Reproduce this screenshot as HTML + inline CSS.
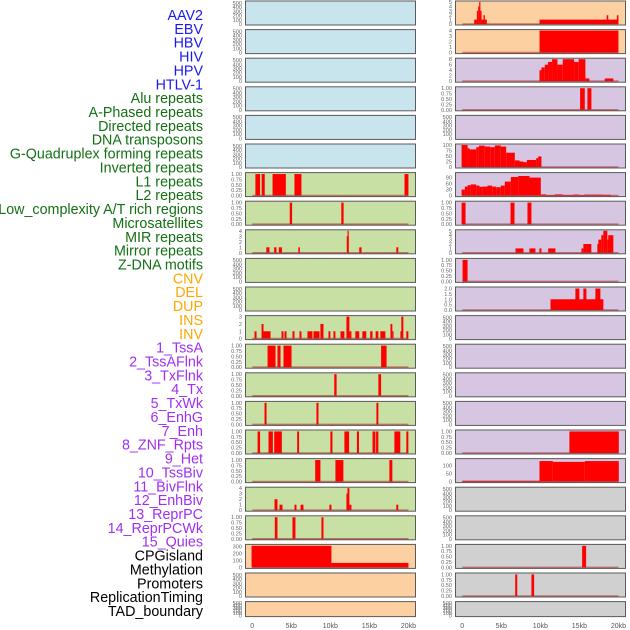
<!DOCTYPE html>
<html><head><meta charset="utf-8"><style>
html,body{margin:0;padding:0;background:#fff;width:630px;height:630px;overflow:hidden}
svg{display:block;font-family:"Liberation Sans",sans-serif}
</style></head><body>
<svg id="chart" width="630" height="630" viewBox="0 0 630 630"></svg>
<script>
// ---- data ----
const trackLabels = ["AAV2","EBV","HBV","HIV","HPV","HTLV-1","Alu repeats","A-Phased repeats","Directed repeats","DNA transposons","G-Quadruplex forming repeats","Inverted repeats","L1 repeats","L2 repeats","Low_complexity A/T rich regions","Microsatellites","MIR repeats","Mirror repeats","Z-DNA motifs","CNV","DEL","DUP","INS","INV","1_TssA","2_TssAFlnk","3_TxFlnk","4_Tx","5_TxWk","6_EnhG","7_Enh","8_ZNF_Rpts","9_Het","10_TssBiv","11_BivFlnk","12_EnhBiv","13_ReprPC","14_ReprPCWk","15_Quies","CPGisland","Methylation","Promoters","ReplicationTiming","TAD_boundary"];
const labelGroups = ["virus","virus","virus","virus","virus","virus","repeat","repeat","repeat","repeat","repeat","repeat","repeat","repeat","repeat","repeat","repeat","repeat","repeat","sv","sv","sv","sv","sv","chrom","chrom","chrom","chrom","chrom","chrom","chrom","chrom","chrom","chrom","chrom","chrom","chrom","chrom","chrom","other","other","other","other","other"];
const xTickValues = [0,5,10,15,20];
const xTickLabels = ["0","5kb","10kb","15kb","20kb"];
const ticksEmpty = [0,100,200,300,400,500];
const ticksFrac = [0,0.25,0.5,0.75,1];

// left column bars [startKb, endKb, value]
const L6_bars = [[0.4,1.0,1],[1.2,1.6,1],[2.6,4.3,1],[5.4,6.3,1],[19.5,20.0,1]];
const L7_bars = [[4.8,5.1,1],[11.4,11.7,1]];
const L8_bars = [[1.8,2.2,1],[2.8,3.1,1],[3.4,3.8,1],[5.9,6.1,1],[12.1,12.35,3],[12.2,12.35,4],[13.7,14.0,1],[18.45,18.7,1]];
const L11_bars = [[0.29,0.55,1],[1.19,1.44,2],[1.44,2.34,1],[3.75,4.0,1],[4.13,4.39,1],[5.15,5.41,1],[6.05,6.3,1],[7.07,7.71,1],[7.84,8.61,1],[8.73,9.12,2],[9.76,10.0,1],[10.4,10.65,1],[11.3,11.8,1],[12.06,12.44,3],[12.44,12.7,1],[13.2,13.7,1],[14.1,14.6,1],[15.1,15.4,1],[15.8,16.15,1],[16.4,17.05,1],[17.7,17.94,2],[17.94,18.05,1],[18.97,19.2,1],[19.09,19.35,3],[19.73,19.99,1]];
const L12_bars = [[1.96,2.98,1],[3.23,3.62,1],[4.0,5.03,1],[16.5,17.2,1]];
const L13_bars = [[10.5,10.8,1],[16.15,16.5,1]];
const L14_bars = [[1.57,1.83,1],[8.22,8.48,1],[15.9,16.15,1]];
const L15_bars = [[0.68,1.0,1],[2.08,2.64,1],[2.81,3.79,1],[5.75,6.0,1],[10.0,10.27,1],[11.8,12.4,1],[13.4,13.67,1],[15.4,15.77,1],[15.86,16.15,1],[18.2,18.96,1],[19.73,19.99,1]];
const L16_bars = [[8.06,8.73,1],[10.65,11.67,1],[17.56,17.94,1]];
const L17_bars = [[2.85,3.23,2],[3.49,3.87,1],[5.41,5.66,1],[6.19,6.56,1],[9.88,10.14,1],[12.06,12.32,3],[12.19,12.44,4],[12.44,12.7,1],[18.45,18.7,1]];
const L18_bars = [[2.89,3.23,1],[5.15,5.53,1],[8.86,9.12,1]];
const L19_bars = [[-0.09,10.14,310],[10.14,20.0,64]];

// right column bars
const R0_bars = [[1.53,1.87,1],[1.87,2.04,3],[2.04,2.17,4],[2.17,2.3,5],[2.3,2.47,3],[2.47,2.72,1],[2.72,2.9,2],[2.9,3.15,1],[9.9,20.0,1],[18.5,18.7,2],[19.8,20.0,2]];
const R1_bars = [[9.9,20.0,4]];
const R2_bars = [[9.89,10.14,4],[10.14,10.57,5],[10.57,10.99,6],[10.99,11.5,7],[11.5,12.19,8],[12.19,12.87,6],[12.87,14.32,8],[14.32,14.91,7],[14.91,15.77,8],[15.77,16.28,1],[18.24,19.35,1]];
const R3_bars = [[15.09,15.69,1],[16.03,16.54,1]];
const R5_bars = [[-0.09,0.68,100],[0.68,0.93,85],[0.93,1.79,80],[1.79,2.13,90],[2.13,2.89,97],[2.89,3.58,93],[3.58,4.17,90],[4.17,4.94,98],[4.94,5.62,93],[5.62,6.73,65],[6.73,7.33,30],[7.33,7.84,25],[7.84,8.27,22],[8.27,9.46,32],[9.46,9.72,40],[9.72,10.14,48]];
const R6_bars = [[-0.09,0.34,30],[0.34,0.68,45],[0.68,1.1,52],[1.1,1.79,56],[1.79,2.21,50],[2.21,2.64,44],[2.64,3.23,45],[3.23,3.83,50],[3.83,4.34,45],[4.34,4.94,42],[4.94,5.45,50],[5.45,6.22,70],[6.22,7.16,93],[7.16,8.61,98],[8.61,10.06,90],[10.06,10.74,6],[10.74,11.85,3],[11.85,12.87,6],[12.87,14.15,3],[14.15,15.0,5],[15.0,15.64,3],[15.64,17.98,5],[17.98,19.05,4]];
const R7_bars = [[-0.09,0.42,1],[6.18,6.69,1],[8.35,8.86,1]];
const R8_bars = [[6.82,7.84,1],[8.6,9.37,1],[9.88,10.14,1],[11.0,11.93,1],[15.26,15.51,1],[15.51,16.53,2],[17.3,17.56,2],[17.43,17.81,3],[17.81,18.07,4],[18.07,18.58,5],[18.58,18.84,3],[18.7,19.35,4]];
const R9_bars = [[0.04,0.68,1]];
const R10_bars = [[11.3,18.07,1],[14.49,15.0,2],[15.51,15.9,2],[17.05,17.69,2]];
const R15_bars = [[13.72,20.05,1]];
const R16_bars = [[0,9.89,5],[9.89,11.6,126],[11.6,15.7,121],[15.7,20.05,126]];
const R19_bars = [[15.35,15.86,1]];
const R20_bars = [[6.78,7.04,1],[8.86,9.2,1]];

// ---- layout ----
const NS="http://www.w3.org/2000/svg";
const svg=document.getElementById('chart');
const colLeft=[245,416], colRight=[455,626];
const pitch=28.6, ph=25;
const BLUE="#c8e4ec", GREEN="#c8e0a4", PEACH="#fdd0a2", PURP="#d6c6e2", GREY="#d0d0d0";
const labelColors={virus:"#1a1aee",repeat:"#137013",sv:"#ffa500",chrom:"#a02ff0",other:"#000"};

function xs(col,kb){const c=col===0?colLeft:colRight;return c[0]+(kb+0.93)*(c[1]-c[0])/21.9;}
function mk(tag,attrs,parent){const e=document.createElementNS(NS,tag);for(const k in attrs)e.setAttribute(k,attrs[k]);(parent||svg).appendChild(e);return e;}

function panel(col,row,bg,ticks,ymax,bars,name){
  const c=col===0?colLeft:colRight;
  const top=0.5+row*pitch, h=row===21?16:ph;
  const g=mk('g',{});
  
  
  const r=mk('rect',{x:c[0]+0.5,y:top+0.5,width:c[1]-c[0]-1,height:h-1,fill:bg,stroke:'#5a5a5a','stroke-width':1},g);
  
  
  const y0=top+h-1.5, y1=top+1.5;
  const ys=v=>y0-(v/ymax)*(y0-y1);
  bars.forEach(b=>{
    const x1=xs(col,b[0]), x2=xs(col,b[1]);
    const br=mk('rect',{x:x1,y:ys(b[2]),width:Math.max(1.2,x2-x1),height:y0-ys(b[2]),fill:'#ff0000'},g);
    
    
  });
  if(bars.length){
    const bl=mk('line',{x1:xs(col,0),x2:xs(col,20),y1:y0,y2:y0,stroke:'rgba(160,40,40,0.55)','stroke-width':1.6},g);
    
    
  }
  const dec=ticks.some(v=>v%1!==0);
  ticks.forEach(t=>{
    const tx=mk('text',{x:c[0]-3,y:ys(t)+2,'text-anchor':'end','font-size':'5.6px',fill:'#666'},g);
    tx.textContent=ticks===ticksFrac?t.toFixed(2):(dec?t.toFixed(1):String(t));
    
    
  });
}

const leftBg=r=>r<=5?BLUE:(r<=18?GREEN:PEACH);
const rightBg=r=>r<=1?PEACH:(r<=16?PURP:GREY);
const leftData={6:[ticksFrac,1.02,L6_bars],7:[ticksFrac,1.02,L7_bars],8:[[0,1,2,3,4],4,L8_bars],11:[[0,1,2,3],3,L11_bars],12:[ticksFrac,1.02,L12_bars],13:[ticksFrac,1.02,L13_bars],14:[ticksFrac,1.02,L14_bars],15:[ticksFrac,1.02,L15_bars],16:[ticksFrac,1.02,L16_bars],17:[[0,1,2,3,4],4,L17_bars],18:[ticksFrac,1.02,L18_bars],19:[[0,100,200,300],315,L19_bars]};
const rightData={0:[[0,1,2,3,4,5],5,R0_bars],1:[[0,1,2,3,4],4,R1_bars],2:[[0,2,4,6,8],8,R2_bars],3:[ticksFrac,1.02,R3_bars],5:[[0,25,50,75,100],100,R5_bars],6:[[0,30,60,90],110,R6_bars],7:[ticksFrac,1.02,R7_bars],8:[[0,1,2,3,4,5],5,R8_bars],9:[ticksFrac,1.02,R9_bars],10:[[0,0.5,1,1.5,2],2.05,R10_bars],15:[ticksFrac,1.02,R15_bars],16:[[0,50,100],135,R16_bars],19:[ticksFrac,1.02,R19_bars],20:[ticksFrac,1.02,R20_bars]};

for(let r=0;r<22;r++){
  const ld=leftData[r]||[ticksEmpty,520,[]];
  panel(0,r,leftBg(r),ld[0],ld[1],ld[2],'left-panel-'+r);
  const rd=rightData[r]||[ticksEmpty,520,[]];
  panel(1,r,rightBg(r),rd[0],rd[1],rd[2],'right-panel-'+r);
}

// labels
trackLabels.forEach((t,i)=>{
  const y=15+i*(596/43);
  const tx=mk('text',{x:203,y:y+5,'text-anchor':'end','font-size':'14.3px',fill:labelColors[labelGroups[i]]});
  tx.textContent=t;
  
  
});

// x axes
[0,1].forEach(col=>{
  xTickValues.forEach((v,i)=>{
    const tx=mk('text',{x:xs(col,v),y:628,'text-anchor':'middle','font-size':'7px',fill:'#555'});
    tx.textContent=xTickLabels[i];
    
    
  });
});
</script>
</body></html>
